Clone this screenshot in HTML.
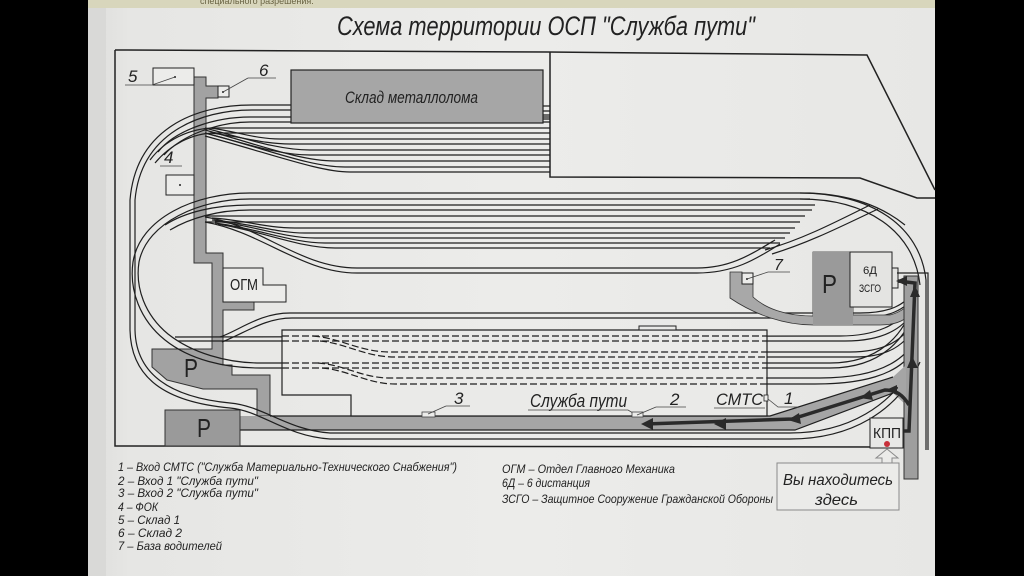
<!DOCTYPE html>
<html><head><meta charset="utf-8">
<style>
html,body{margin:0;padding:0;background:#000;}
svg{display:block}
text{font-family:"Liberation Sans","DejaVu Sans",sans-serif;font-style:italic;fill:#222;}
.u{font-style:normal}
.t{fill:none;stroke:#1f1f1f;stroke-width:1.2}
.d{fill:none;stroke:#1f1f1f;stroke-width:1.2;stroke-dasharray:7 3}
.f{fill:none;stroke:#222;stroke-width:1.5}
.l{fill:none;stroke:#444;stroke-width:0.8}
</style></head><body>
<svg width="1024" height="576" viewBox="0 0 1024 576" xmlns="http://www.w3.org/2000/svg">
<defs>
<linearGradient id="pg" x1="0" x2="1" y1="0" y2="0">
<stop offset="0" stop-color="#dededc"/><stop offset="0.05" stop-color="#e6e6e4"/>
<stop offset="0.5" stop-color="#ececea"/><stop offset="1" stop-color="#e7e7e5"/>
</linearGradient>
</defs>
<rect width="1024" height="576" fill="#000"/>
<rect x="88" y="0" width="847" height="576" fill="url(#pg)"/>
<rect x="88" y="0" width="18" height="576" fill="#d9d9d7"/>
<rect x="88" y="0" width="847" height="8" fill="#d8d6bc"/>
<text x="200" y="4" font-size="9" style="fill:#6a6444" class="u">специального разрешения.</text>

<!-- Title -->
<text x="337" y="35" font-size="27" textLength="418" lengthAdjust="spacingAndGlyphs">Схема территории ОСП "Служба пути"</text>

<!-- Frame -->
<path class="f" d="M115 50 L548 52 L867 55 L935 190"/>
<path class="f" d="M115 50 L115 446 L906 447"/>
<path class="f" d="M550 52 L550 177 L860 178 L917 198 L935 198"/>

<!-- Left grey road + P1 -->
<polygon fill="#a2a2a2" stroke="#333" stroke-width="1" points="194,77 206,77 206,86 218,86 218,98 206,98 206,253 223,253 223,302 254,302 254,310 223,310 223,365 232,365 232,375 270,375 270,416 257,416 257,389 203,389 167,380 152,367 152,349 212,349 212,263 194,263"/>
<!-- bottom road -->
<polygon fill="#a5a5a5" points="240,416 770,416 893,377 906,372 906,405 893,393 795,430 240,430"/>
<path class="t" d="M270 416 L770 416 L893 377"/>
<path class="t" d="M240 430 L795 430 L893 393"/>
<!-- P2 -->
<rect x="165" y="410" width="75" height="36" fill="#9a9a9a" stroke="#333" stroke-width="1"/>

<!-- Tracks: outer loop -->
<path class="t" d="M291 105 L252 105 C196 105 136 128 130 200 L130 330 C131 378 165 402 230 408 C262 411 285 436 330 439 L790 439 C850 439 898 412 920 362"/>
<path class="t" d="M291 110 L252 110 C200 110 141 133 135 200 L135 330 C136 373 168 397 230 403 C264 406 287 430 330 433 L790 433 C848 433 892 406 915 362"/>
<!-- top group -->
<path class="t" d="M550 117 L250 117 C215 117 175 130 158 152"/>
<path class="t" d="M550 122 L250 122 C218 122 182 135 164 155"/>
<path class="t" d="M550 128 L215 128 C190 128 165 140 150 160"/>
<path class="t" d="M550 133 L215 133 C192 133 170 145 155 163"/>
<path class="t" d="M210 128 C235 131 255 139 280 139 L550 139"/>
<path class="t" d="M210 133 C240 136 262 144 290 144 L550 144"/>
<path class="t" d="M205 128 C250 140 280 150 310 150 L550 150"/>
<path class="t" d="M205 133 C250 145 280 155 310 155 L550 155"/>
<path class="t" d="M205 130 C260 145 300 161 335 161 L550 161"/>
<path class="t" d="M205 133 C270 150 310 167 345 167 L550 167"/>
<path class="t" d="M205 136 C275 155 320 172 350 172 L550 172"/>
<path class="t" d="M543 106 L550 106 M543 111 L550 111 M543 115 L550 115 M543 119 L550 119"/>
<!-- inner loop -->
<path class="t" d="M810 193 L250 193 C195 193 140 218 133 262 C129 290 140 320 165 340 C190 360 225 368 260 368 L830 368 C880 368 908 340 918 300"/>
<path class="t" d="M810 199 L250 199 C200 199 147 222 139 262 C135 288 145 315 168 334 C192 353 227 363 260 363 L830 363 C878 363 905 336 914 300"/>
<!-- right loop -->
<path class="t" d="M800 193 C870 193 920 225 926 280 L926 450"/>
<path class="t" d="M800 199 C866 199 914 230 920 285"/>
<!-- middle band -->
<path class="t" d="M815 205 L250 205 C215 205 185 212 165 225"/>
<path class="t" d="M812 210 L250 210 C218 210 190 218 170 230"/>
<path class="t" d="M805 216 L205 216"/>
<path class="t" d="M800 222 L205 222"/>
<path class="t" d="M212 218 C245 220 265 228 295 228 L795 228"/>
<path class="t" d="M212 220 C250 223 275 233 305 233 L790 233"/>
<path class="t" d="M215 221 C255 226 285 238 315 238 L785 238"/>
<path class="t" d="M215 223 C260 229 292 243 325 243 L780 243"/>
<path class="t" d="M218 224 C265 232 300 248 335 248 L770 248"/>
<path class="t" d="M205 217 C260 225 300 268 357 268 L697 268 C730 268 750 255 775 240"/>
<path class="t" d="M205 222 C262 232 302 273 357 273 L697 273 C733 273 755 260 780 244"/>
<path class="t" d="M765 250 C800 240 830 225 870 205"/>
<path class="t" d="M772 254 C808 243 838 228 878 209"/>
<path class="t" d="M810 193 C850 195 880 205 905 225"/>
<!-- lower tracks -->
<path class="t" d="M220 337 C240 330 260 313 290 313 L860 313 C890 313 905 305 915 290"/>
<path class="t" d="M222 342 C245 333 265 318 292 318 L860 318 C888 318 905 310 916 295"/>
<path class="t" d="M175 337 L840 336 C875 336 900 325 912 305"/>
<path class="t" d="M178 341 L845 341 C880 341 903 330 914 310"/>
<path class="t" d="M767 352 L850 352 C885 352 905 340 915 318"/>
<path class="t" d="M767 357 L855 357 C888 357 907 345 916 323"/>
<path class="t" d="M767 378 L820 378 C860 378 895 370 912 345"/>
<path class="t" d="M767 384 L815 384 C860 384 898 376 914 350"/>

<!-- building with dashed tracks -->
<path d="M282 330 L767 330 L767 416 L351 416 L351 395 L282 395 Z" fill="#eaeae8" stroke="#222" stroke-width="1.2"/>
<rect x="639" y="326" width="37" height="4" fill="#eaeae8" stroke="#222" stroke-width="1"/>
<path class="d" d="M282 336 L767 336 M282 341 L767 341 M282 363 L767 363 M282 368 L767 368"/>
<path class="d" d="M313 336 C340 338 360 352 390 352 L767 352"/>
<path class="d" d="M320 341 C345 343 365 357 395 357 L767 357"/>
<path class="d" d="M318 363 C345 365 362 378 390 378 L767 378"/>
<path class="d" d="M322 368 C348 370 368 384 395 384 L767 384"/>

<!-- Склад металлолома -->
<rect x="291" y="70" width="252" height="53" fill="#a6a6a6" stroke="#222" stroke-width="1.2"/>
<text x="345" y="103" font-size="17" textLength="133" lengthAdjust="spacingAndGlyphs">Склад металлолома</text>

<!-- boxes 5,6,4 -->
<rect x="153" y="68" width="41" height="17" fill="#ececea" stroke="#222" stroke-width="1"/>
<circle cx="175" cy="77" r="1" fill="#222"/>
<rect x="218" y="86" width="11" height="11" fill="#ececea" stroke="#222" stroke-width="1"/>
<circle cx="223" cy="92" r="1" fill="#222"/>
<rect x="166" y="175" width="28" height="20" fill="#ececea" stroke="#222" stroke-width="1"/>
<circle cx="180" cy="185" r="1" fill="#222"/>
<text x="128" y="82" font-size="17" textLength="11">5</text>
<path class="l" d="M125 85 L152 85 L175 77"/>
<text x="259" y="76" font-size="17" textLength="11">6</text>
<path class="l" d="M248 78 L276 78 M248 78 L223 92"/>
<text x="164" y="163" font-size="17" textLength="11">4</text>
<path class="l" d="M160 166 L182 166"/>

<!-- ОГМ -->
<path d="M223 268 L263 268 L263 285 L286 285 L286 302 L223 302 Z" fill="#ececea" stroke="#222" stroke-width="1"/>
<text x="230" y="290" font-size="16" class="u" textLength="28" lengthAdjust="spacingAndGlyphs">ОГМ</text>

<!-- P letters -->
<text x="184" y="377" font-size="26" class="u" textLength="14" lengthAdjust="spacingAndGlyphs">P</text>
<text x="197" y="437" font-size="26" class="u" textLength="14" lengthAdjust="spacingAndGlyphs">P</text>

<!-- right grey: box 7, P, band -->
<path fill="#a8a8a8" stroke="#333" stroke-width="0.8" d="M730 272 L742 272 L742 284 L753 284 L753 297 C765 308 785 316 813 316 L813 252 L853 252 L853 315 L890 315 C902 312 910 305 915 295 L918 300 C912 318 900 325 880 325 L813 325 C785 325 755 315 730 298 Z"/>
<rect x="813" y="252" width="40" height="73" fill="#9a9a9a"/>
<rect x="742" y="273" width="11" height="11" fill="#ececea" stroke="#222" stroke-width="1"/>
<circle cx="747" cy="279" r="1" fill="#222"/>
<text x="822" y="293" font-size="26" class="u" textLength="15" lengthAdjust="spacingAndGlyphs">P</text>
<rect x="850" y="252" width="42" height="55" fill="#e4e4e2" stroke="#222" stroke-width="1"/>
<rect x="892" y="268" width="6" height="20" fill="#e4e4e2" stroke="#222" stroke-width="1"/>
<text x="863" y="274" font-size="11" class="u" textLength="14" lengthAdjust="spacingAndGlyphs">6Д</text>
<text x="859" y="292" font-size="11" class="u" textLength="22" lengthAdjust="spacingAndGlyphs">ЗСГО</text>
<text x="774" y="270" font-size="16" textLength="10">7</text>
<path class="l" d="M768 272 L790 272 M768 272 L747 279"/>

<!-- right vertical road -->
<rect x="904" y="276" width="14" height="203" fill="#9e9e9e" stroke="#333" stroke-width="1"/>
<path class="t" d="M897 273 L928 273 L928 450"/>
<path fill="#a5a5a5" d="M893 377 L906 365 L906 405 Z"/>

<!-- arrows -->
<path fill="none" stroke="#2a2a2a" stroke-width="3.5" d="M903 431 L909 431 L915 283 L898 281"/>
<path fill="none" stroke="#2a2a2a" stroke-width="3.5" d="M909 405 C903 395 896 390 885 390 L792 419 L645 424"/>
<polygon fill="#2a2a2a" points="641,424 653,418 653,430"/>
<polygon fill="#2a2a2a" points="714,424 726,418 726,430"/>
<polygon fill="#2a2a2a" points="788,420 799,413 801,424"/>
<polygon fill="#2a2a2a" points="860,398 870,390 873,400"/>
<polygon fill="#2a2a2a" points="886,390 897,385 897,395"/>
<polygon fill="#2a2a2a" points="912,356 907,368 918,368"/>
<polygon fill="#2a2a2a" points="915,285 910,297 920,297"/>
<polygon fill="#2a2a2a" points="896,281 907,276 907,286"/>

<!-- КПП -->
<rect x="870" y="418" width="33" height="30" fill="#e8e8e6" stroke="#222" stroke-width="1"/>
<text x="873" y="438" font-size="15" class="u" textLength="28" lengthAdjust="spacingAndGlyphs">КПП</text>
<circle cx="887" cy="444" r="3" fill="#c8303a"/>

<!-- labels along road -->
<rect x="422" y="412" width="13" height="5" fill="#ececea" stroke="#444" stroke-width="0.8"/>
<text x="454" y="404" font-size="17" textLength="10">3</text>
<path class="l" d="M446 406 L470 406 M446 406 L428 414"/>
<text x="530" y="407" font-size="18" textLength="97" lengthAdjust="spacingAndGlyphs">Служба пути</text>
<path class="l" d="M528 410 L628 410 L633 413"/>
<rect x="632" y="412" width="11" height="5" fill="#ececea" stroke="#444" stroke-width="0.8"/>
<text x="670" y="405" font-size="17" textLength="10">2</text>
<path class="l" d="M656 407 L686 407 M656 407 L637 415"/>
<text x="716" y="405" font-size="17" textLength="47" lengthAdjust="spacingAndGlyphs">СМТС</text>
<path class="l" d="M714 408 L765 408"/>
<rect x="764" y="395" width="4" height="6" fill="#ececea" stroke="#222" stroke-width="0.8"/>
<text x="784" y="404" font-size="17" textLength="9">1</text>
<path class="l" d="M768 399 L778 407 L798 407"/>

<!-- You are here -->
<rect x="777" y="463" width="122" height="47" fill="#ebebe9" stroke="#8a8a8a" stroke-width="1"/>
<polygon fill="#ebebe9" stroke="#8a8a8a" stroke-width="1" points="882,463 882,458 876,458 887,449 898,458 892,458 892,463"/>
<text x="783" y="485" font-size="16" textLength="110" lengthAdjust="spacingAndGlyphs">Вы находитесь</text>
<text x="815" y="505" font-size="16" textLength="43" lengthAdjust="spacingAndGlyphs">здесь</text>

<!-- Legend left -->
<g font-size="12">
<text x="118" y="471" textLength="339" lengthAdjust="spacingAndGlyphs">1 – Вход СМТС ("Служба Материально-Технического Снабжения")</text>
<text x="118" y="485" textLength="140" lengthAdjust="spacingAndGlyphs">2 – Вход 1 "Служба пути"</text>
<text x="118" y="497" textLength="140" lengthAdjust="spacingAndGlyphs">3 – Вход 2 "Служба пути"</text>
<text x="118" y="511" textLength="40" lengthAdjust="spacingAndGlyphs">4 – ФОК</text>
<text x="118" y="524" textLength="62" lengthAdjust="spacingAndGlyphs">5 – Склад 1</text>
<text x="118" y="537" textLength="64" lengthAdjust="spacingAndGlyphs">6 – Склад 2</text>
<text x="118" y="550" textLength="104" lengthAdjust="spacingAndGlyphs">7 – База водителей</text>
<!-- Legend middle -->
<text x="502" y="473" textLength="173" lengthAdjust="spacingAndGlyphs">ОГМ – Отдел Главного Механика</text>
<text x="502" y="487" textLength="88" lengthAdjust="spacingAndGlyphs">6Д – 6 дистанция</text>
<text x="502" y="503" textLength="271" lengthAdjust="spacingAndGlyphs">ЗСГО – Защитное Сооружение Гражданской Обороны</text>
</g>
</svg>
</body></html>
